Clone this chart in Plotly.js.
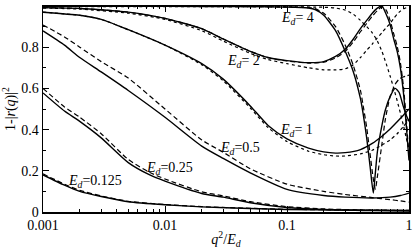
<!DOCTYPE html>
<html><head><meta charset="utf-8">
<script src="https://cdn.plot.ly/plotly-3.0.1.min.js"></script>
<style>html,body{margin:0;padding:0;background:#fff}</style>
</head><body><div id="chart" style="width:415px;height:252px"></div>
<script>
const xTickVals = [0.001, 0.01, 0.1, 1];
const xTickText = ['0.001', '0.01', '0.1', '1'];
const yTickVals = [0, 0.2, 0.4, 0.6, 0.8, 1];
const yTickText = ['0', '0.2', '0.4', '0.6', '0.8', '1'];

// E_d = 0.125
const x0125 = [0.001, 0.0015, 0.002, 0.003, 0.005, 0.01, 0.02, 0.05, 0.1, 0.3, 1];
const y0125Solid = [0.18, 0.13, 0.10, 0.075, 0.05, 0.035, 0.025, 0.017, 0.012, 0.009, 0.007];
const y0125Dashed = [0.185, 0.135, 0.105, 0.078, 0.052, 0.036, 0.026, 0.018, 0.013, 0.010, 0.008];

// E_d = 0.25
const x025 = [0.001, 0.0015, 0.002, 0.003, 0.005, 0.0075, 0.01, 0.02, 0.03, 0.05, 0.1, 0.2, 0.5, 1];
const y025Solid = [0.578, 0.49, 0.44, 0.36, 0.24, 0.18, 0.15, 0.09, 0.072, 0.045, 0.022, 0.012, 0.007, 0.005];
const y025Dashed = [0.60, 0.51, 0.46, 0.38, 0.255, 0.192, 0.16, 0.098, 0.078, 0.05, 0.026, 0.015, 0.009, 0.007];

// E_d = 0.5
const x05 = [0.001, 0.0015, 0.002, 0.003, 0.005, 0.01, 0.02, 0.03, 0.05, 0.1, 0.2, 0.3, 0.5, 0.7, 0.85, 1];
const y05Solid = [0.879, 0.81, 0.75, 0.68, 0.59, 0.46, 0.32, 0.26, 0.19, 0.11, 0.08, 0.072, 0.068, 0.072, 0.08, 0.092];
const y05Dashed = [0.908, 0.85, 0.80, 0.73, 0.65, 0.50, 0.35, 0.29, 0.21, 0.135, 0.10, 0.085, 0.07, 0.06, 0.054, 0.048];

// E_d = 1
const x1 = [0.001, 0.002, 0.003, 0.005, 0.01, 0.02, 0.03, 0.05, 0.07, 0.1, 0.15, 0.2, 0.25, 0.3, 0.4, 0.5, 0.6, 0.7, 0.8, 0.9, 1];
const y1Solid = [0.97, 0.955, 0.935, 0.885, 0.81, 0.72, 0.645, 0.515, 0.42, 0.355, 0.31, 0.292, 0.286, 0.288, 0.303, 0.333, 0.368, 0.403, 0.438, 0.47, 0.50];
const y1Dotted = [0.97, 0.955, 0.935, 0.885, 0.81, 0.715, 0.637, 0.505, 0.41, 0.342, 0.295, 0.278, 0.272, 0.272, 0.282, 0.30, 0.325, 0.35, 0.38, 0.415, 0.45];

// E_d = 2
const x2 = [0.001, 0.002, 0.005, 0.01, 0.02, 0.03, 0.05, 0.07, 0.1, 0.15, 0.2, 0.25, 0.3, 0.35, 0.4, 0.45, 0.5, 0.55, 0.6, 0.65, 0.7, 0.75, 0.8, 0.85, 0.9, 0.95, 1];
const y2Solid = [0.992, 0.988, 0.97, 0.94, 0.89, 0.84, 0.78, 0.75, 0.735, 0.725, 0.73, 0.755, 0.79, 0.84, 0.89, 0.93, 0.965, 0.99, 1.0, 0.96, 0.91, 0.84, 0.78, 0.70, 0.58, 0.42, 0.25];
const y2Dashed = [0.992, 0.988, 0.97, 0.94, 0.89, 0.84, 0.78, 0.749, 0.733, 0.723, 0.727, 0.748, 0.78, 0.826, 0.875, 0.915, 0.95, 0.978, 0.996, 0.98, 0.93, 0.865, 0.805, 0.725, 0.61, 0.45, 0.27];
const y2Dotted = [0.99, 0.985, 0.965, 0.935, 0.88, 0.83, 0.77, 0.74, 0.72, 0.70, 0.69, 0.69, 0.695, 0.715, 0.75, 0.785, 0.815, 0.845, 0.87, 0.895, 0.915, 0.94, 0.96, 0.975, 0.985, 0.992, 0.995];

// E_d = 4
const x4 = [0.001, 0.01, 0.05, 0.1, 0.15, 0.17, 0.2, 0.25, 0.3, 0.35, 0.4, 0.42, 0.45, 0.48, 0.51, 0.53, 0.55, 0.6, 0.64, 0.7, 0.77, 0.83, 0.89, 0.95, 1];
const y4Solid = [0.998, 0.998, 0.997, 0.995, 0.99, 0.983, 0.955, 0.88, 0.78, 0.68, 0.55, 0.48, 0.36, 0.22, 0.092, 0.19, 0.29, 0.42, 0.495, 0.56, 0.60, 0.58, 0.52, 0.47, 0.44];
const y4Dashed = [0.998, 0.998, 0.997, 0.995, 0.992, 0.987, 0.965, 0.90, 0.81, 0.71, 0.59, 0.52, 0.41, 0.28, 0.16, 0.11, 0.17, 0.33, 0.45, 0.56, 0.62, 0.645, 0.655, 0.66, 0.665];
const x4Dot = [0.001, 0.01, 0.1, 0.2, 0.25, 0.3, 0.35, 0.4, 0.45, 0.5, 0.55, 0.6, 0.65, 0.7, 0.75, 0.8, 0.85, 0.9, 0.95, 1];
const y4Dotted = [0.997, 0.997, 0.996, 0.994, 0.99, 0.98, 0.96, 0.93, 0.90, 0.87, 0.83, 0.78, 0.72, 0.66, 0.60, 0.54, 0.48, 0.42, 0.36, 0.30];

const labelTexts = ['4', '2', '1', '0.5', '0.25', '0.125'];

const solidLine = {color: '#000', width: 1.4, shape: 'spline', smoothing: 0.6};
const dashedLine = {color: '#000', width: 1.2, dash: '5px,3px', shape: 'spline', smoothing: 0.6};
const dottedLine = {color: '#000', width: 1.2, dash: 'dot', shape: 'spline', smoothing: 0.6};

function tr(x, y, line) {
  return {x: x, y: y, type: 'scatter', mode: 'lines', line: line, hoverinfo: 'skip', showlegend: false};
}

const traces = [
  tr(x0125, y0125Dashed, dashedLine), tr(x0125, y0125Solid, solidLine),
  tr(x025, y025Dashed, dashedLine), tr(x025, y025Solid, solidLine),
  tr(x05, y05Dashed, dashedLine), tr(x05, y05Solid, solidLine),
  tr(x1, y1Dotted, dottedLine), tr(x1, y1Solid, solidLine),
  tr(x2, y2Dotted, dottedLine), tr(x2, y2Dashed, dashedLine), tr(x2, y2Solid, solidLine),
  tr(x4Dot, y4Dotted, dottedLine), tr(x4, y4Dashed, dashedLine), tr(x4, y4Solid, solidLine)
];

const minorX = [];
for (let d = -3; d < 0; d++) for (let k = 2; k <= 9; k++) minorX.push(k * Math.pow(10, d));

const font = {family: 'Liberation Serif, Times New Roman, serif', size: 14, color: '#000'};

function lab(i, x, y, space) {
  return {x: x, y: y, xref: 'x', yref: 'y', showarrow: false,
    text: '<i>E</i><sub><i>d</i></sub>=' + (space ? ' ' : '') + labelTexts[i],
    font: {family: font.family, size: 14, color: '#000'}};
}

const layout = {
  width: 415, height: 252,
  margin: {l: 43, r: 6, t: 6, b: 40},
  paper_bgcolor: '#fff', plot_bgcolor: '#fff',
  font: font,
  xaxis: {
    type: 'log', range: [-3, 0], autorange: false,
    tickvals: xTickVals, ticktext: xTickText,
    ticks: 'inside', ticklen: 6, tickwidth: 1, tickcolor: '#000',
    minor: {tickvals: minorX, ticks: 'inside', ticklen: 3, tickwidth: 1, tickcolor: '#000', showgrid: false},
    showline: true, linecolor: '#000', linewidth: 1.5, mirror: 'ticks',
    showgrid: false, zeroline: false,
    tickfont: font,
    title: {text: '<i>q</i><sup>2</sup>/<i>E</i><sub><i>d</i></sub>', font: font, standoff: 2}
  },
  yaxis: {
    range: [0, 1], autorange: false,
    tickvals: yTickVals, ticktext: yTickText,
    ticks: 'inside', ticklen: 6, tickwidth: 1, tickcolor: '#000',
    minor: {dtick: 0.1, ticks: 'inside', ticklen: 3, tickwidth: 1, tickcolor: '#000', showgrid: false},
    showline: true, linecolor: '#000', linewidth: 1.5, mirror: 'ticks',
    showgrid: false, zeroline: false,
    tickfont: font,
    title: {text: '1-|<i>r</i>(<i>q</i>)|<sup>2</sup>', font: font, standoff: 2}
  },
  annotations: [
    lab(0, -0.918, 0.94, true),
    lab(1, -1.36, 0.73, true),
    lab(2, -0.926, 0.395, true),
    lab(3, -1.385, 0.31, false),
    lab(4, -1.967, 0.21, false),
    lab(5, -2.574, 0.146, false)
  ]
};

Plotly.newPlot('chart', traces, layout, {staticPlot: true, displayModeBar: false});
</script>
</body></html>
